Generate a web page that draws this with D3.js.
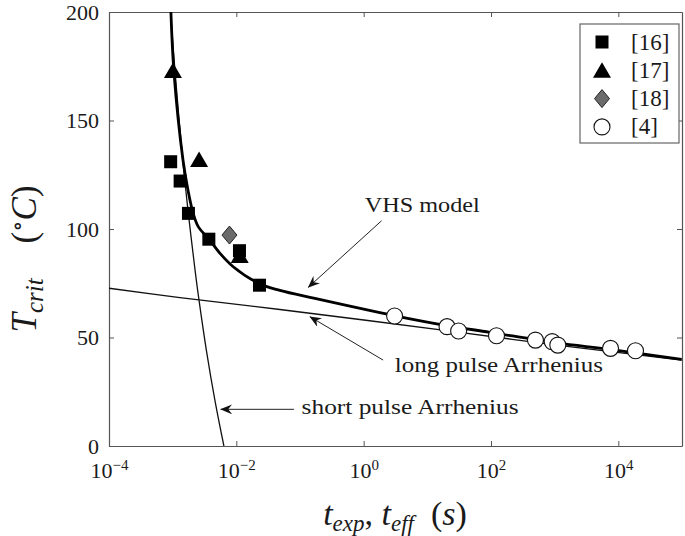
<!DOCTYPE html>
<html>
<head>
<meta charset="utf-8">
<script src="https://cdn.jsdelivr.net/npm/d3@7"></script>
<style>
  html, body { margin: 0; padding: 0; background: #fff; }
  svg { display: block; }
  svg text { font-family: "Liberation Serif", "DejaVu Serif", "Noto Serif", "Tinos", serif !important; fill: #1a1a1a; }
</style>
</head>
<body>
<svg id="chart" width="685" height="536"></svg>
<script>
// ---------------- data ----------------
const xTickValues = [1e-4, 1e-2, 1, 1e2, 1e4];
const xTickExponents = ["\u22124", "\u22122", "0", "2", "4"];
const yTickValues = [0, 50, 100, 150, 200];

// [16] squares
const ref16_t = [9.3e-4, 1.31e-3, 1.77e-3, 3.70e-3, 0.0112, 0.0231];
const ref16_T = [131.0, 122.1, 107.2, 95.3, 90.0, 74.1];
// [17] triangles
const ref17_t = [1.01e-3, 2.6e-3, 0.0113];
const ref17_T = [173.0, 132.0, 87.8];
// [18] diamond
const ref18_t = [7.8e-3];
const ref18_T = [97.2];
// [4] circles
const ref4_t = [3.06, 20.4, 31, 122, 499, 914, 1120, 7540, 18600];
const ref4_T = [59.9, 55.0, 53.0, 50.8, 48.8, 48.1, 46.5, 45.0, 43.9];

// VHS model curve
const vhs_t = [9.39e-4, 1.047e-3, 1.452e-3, 1.738e-3, 2.10e-3, 2.52e-3, 3.72e-3, 5.53e-3, 8.93e-3, 0.0226, 0.0483, 0.1714, 2.98, 20.0, 95.7, 1079, 7328, 98900];
const vhs_T = [200, 172.4, 131.8, 118.0, 107.2, 101.1, 95.3, 88.8, 82.6, 74.9, 71.7, 68.0, 60.1, 55.5, 52.4, 47.5, 44.5, 39.9];
// short pulse Arrhenius
const shortArr_t = [9.27e-4, 1.09e-3, 1.44e-3, 1.76e-3, 2.27e-3, 2.59e-3, 3.38e-3, 4.68e-3, 6.38e-3];
const shortArr_T = [200, 172.4, 131.8, 107.4, 80.0, 67.3, 44.2, 20.0, 0];
// long pulse Arrhenius
const longArr_t = [1e-4, 1.30e-3, 0.0483, 20.0, 1079, 98900];
const longArr_T = [72.7, 68.4, 62.9, 53.2, 46.5, 39.6];

// legend
const legendLabels = ["[16]", "[17]", "[18]", "[4]"];
const legendShapes = ["square", "triangle", "diamond", "circle"];

// annotations (data coordinates)
const annotationTexts = ["VHS model", "long pulse Arrhenius", "short pulse Arrhenius"];
const annotationTextPos = [[1.04, 107.7], [3.09, 34.2], [0.106, 14.7]];
const annotationTextLen = [115, 208, 217];
const annotationArrowFrom = [[1.91, 103.8], [2.02, 39.6], [0.0802, 16.9]];
const annotationArrowTo = [[0.1346, 73.1], [0.143, 59.6], [5.68e-3, 16.9]];

// ---------------- chart ----------------
const svg = d3.select("#chart");
const mLeft = 109, mRight = 682, mTop = 12, mBottom = 446;

const x = d3.scaleLog().domain([1e-4, 1e5]).range([mLeft, mRight]);
const y = d3.scaleLinear().domain([0, 200]).range([mBottom, mTop]);

const axisColor = "#555";

// defs: arrowhead + clip
const defs = svg.append("defs");
defs.append("marker")
  .attr("id", "arrow")
  .attr("viewBox", "0 0 12 10")
  .attr("refX", 11.5).attr("refY", 5)
  .attr("markerWidth", 12).attr("markerHeight", 10)
  .attr("markerUnits", "userSpaceOnUse")
  .attr("orient", "auto")
  .append("path")
  .attr("d", "M0,0 L12,5 L0,10 L4,5 Z")
  .attr("fill", "#111");
defs.append("clipPath").attr("id", "plotclip")
  .append("rect").attr("x", mLeft).attr("y", mTop).attr("width", mRight - mLeft).attr("height", mBottom - mTop);

// axes
const gx = svg.append("g").attr("transform", `translate(0,${mBottom})`)
  .call(d3.axisBottom(x).tickValues(xTickValues).tickSizeInner(-5).tickSizeOuter(0).tickPadding(8));
const gxTop = svg.append("g").attr("transform", `translate(0,${mTop})`)
  .call(d3.axisTop(x).tickValues(xTickValues).tickSizeInner(-5).tickSizeOuter(0).tickFormat(""));
const gy = svg.append("g").attr("transform", `translate(${mLeft},0)`)
  .call(d3.axisLeft(y).tickValues(yTickValues).tickSizeInner(-5).tickSizeOuter(0).tickPadding(10));
const gyRight = svg.append("g").attr("transform", `translate(${mRight},0)`)
  .call(d3.axisRight(y).tickValues(yTickValues).tickSizeInner(-5).tickSizeOuter(0).tickFormat(""));

[gx, gxTop, gy, gyRight].forEach(g => {
  g.attr("font-family", null);
  g.select(".domain").attr("stroke", axisColor).attr("stroke-width", 1.2);
  g.selectAll(".tick line").attr("stroke", axisColor).attr("stroke-width", 1);
});

gy.selectAll(".tick text")
  .attr("font-size", 22)
  .attr("fill", "#1a1a1a")
  .attr("dy", "0.32em");

gx.selectAll(".tick text")
  .attr("font-size", 22)
  .attr("fill", "#1a1a1a")
  .attr("dy", null)
  .attr("y", 32)
  .each(function(d, i) {
    const t = d3.select(this);
    t.text(null);
    t.append("tspan").text("10");
    t.append("tspan").attr("dy", -8).attr("font-size", 15).text(xTickExponents[i]);
  });

// curves
const line = d3.line().x(d => x(d[0])).y(d => y(d[1])).curve(d3.curveCatmullRom.alpha(0.5));
const curves = svg.append("g").attr("clip-path", "url(#plotclip)");
curves.append("path")
  .attr("d", line(longArr_t.map((t, i) => [t, longArr_T[i]])))
  .attr("fill", "none").attr("stroke", "#111").attr("stroke-width", 1.3);
curves.append("path")
  .attr("d", line(shortArr_t.map((t, i) => [t, shortArr_T[i]])))
  .attr("fill", "none").attr("stroke", "#111").attr("stroke-width", 1.3);
curves.append("path")
  .attr("d", line(vhs_t.map((t, i) => [t, vhs_T[i]])))
  .attr("fill", "none").attr("stroke", "#000").attr("stroke-width", 2.8);

// markers
function drawMarker(g, shape, cx, cy) {
  if (shape === "square") {
    g.append("rect").attr("x", cx - 6.5).attr("y", cy - 6.5).attr("width", 13).attr("height", 13)
      .attr("fill", "#000");
  } else if (shape === "triangle") {
    g.append("path").attr("d", `M${cx},${cy - 8} L${cx + 9},${cy + 7.5} L${cx - 9},${cy + 7.5} Z`)
      .attr("fill", "#000");
  } else if (shape === "diamond") {
    g.append("path").attr("d", `M${cx},${cy - 9} L${cx + 7.5},${cy} L${cx},${cy + 9} L${cx - 7.5},${cy} Z`)
      .attr("fill", "#6b6b6b").attr("stroke", "#222").attr("stroke-width", 1);
  } else {
    g.append("circle").attr("cx", cx).attr("cy", cy).attr("r", 8)
      .attr("fill", "#fff").attr("stroke", "#111").attr("stroke-width", 1.1);
  }
}
const mk = svg.append("g");
ref16_t.forEach((t, i) => drawMarker(mk, "square", x(t), y(ref16_T[i])));
ref17_t.forEach((t, i) => drawMarker(mk, "triangle", x(t), y(ref17_T[i])));
ref18_t.forEach((t, i) => drawMarker(mk, "diamond", x(t), y(ref18_T[i])));
ref4_t.forEach((t, i) => drawMarker(mk, "circle", x(t), y(ref4_T[i])));

// annotations
const ann = svg.append("g");
annotationArrowFrom.forEach((a, i) => {
  ann.append("line")
    .attr("x1", x(a[0])).attr("y1", y(a[1]))
    .attr("x2", x(annotationArrowTo[i][0])).attr("y2", y(annotationArrowTo[i][1]))
    .attr("stroke", "#222").attr("stroke-width", 1)
    .attr("marker-end", "url(#arrow)");
});
annotationTexts.forEach((s, i) => {
  ann.append("text")
    .attr("x", x(annotationTextPos[i][0])).attr("y", y(annotationTextPos[i][1]))
    .attr("font-size", 21)
    .attr("textLength", annotationTextLen[i])
    .attr("lengthAdjust", "spacingAndGlyphs")
    .text(s);
});

// legend
const lg = svg.append("g");
lg.append("rect").attr("x", 580).attr("y", 24).attr("width", 99).attr("height", 119)
  .attr("fill", "#fff").attr("stroke", "#666").attr("stroke-width", 1.2);
legendLabels.forEach((lab, i) => {
  const cy = 42 + i * 28.3;
  drawMarker(lg, legendShapes[i], 602, cy);
  lg.append("text").attr("x", 631).attr("y", cy + 7.5).attr("font-size", 23).text(lab);
});

// axis titles
const xt = svg.append("text")
  .attr("x", 395).attr("y", 525)
  .attr("text-anchor", "middle")
  .attr("font-size", 34);
xt.append("tspan").attr("font-style", "italic").text("t");
xt.append("tspan").attr("font-style", "italic").attr("font-size", 23).attr("dy", 6).text("exp");
xt.append("tspan").attr("dy", -6).text(", ");
xt.append("tspan").attr("font-style", "italic").text("t");
xt.append("tspan").attr("font-style", "italic").attr("font-size", 23).attr("dy", 6).text("eff");
xt.append("tspan").attr("dy", -6).text("\u2002(");
xt.append("tspan").attr("font-style", "italic").text("s");
xt.append("tspan").text(")");

const yt = svg.append("text")
  .attr("transform", "translate(36,259) rotate(-90)")
  .attr("text-anchor", "middle")
  .attr("font-size", 35);
yt.append("tspan").attr("font-style", "italic").text("T");
yt.append("tspan").attr("font-style", "italic").attr("font-size", 25).attr("dy", 7).text("crit");
yt.append("tspan").attr("dy", -7).text("\u2003(");
yt.append("tspan").attr("font-size", 23).attr("dy", -11).text("\u2218");
yt.append("tspan").attr("font-style", "italic").attr("dy", 11).text("C");
yt.append("tspan").text(")");
</script>
</body>
</html>
